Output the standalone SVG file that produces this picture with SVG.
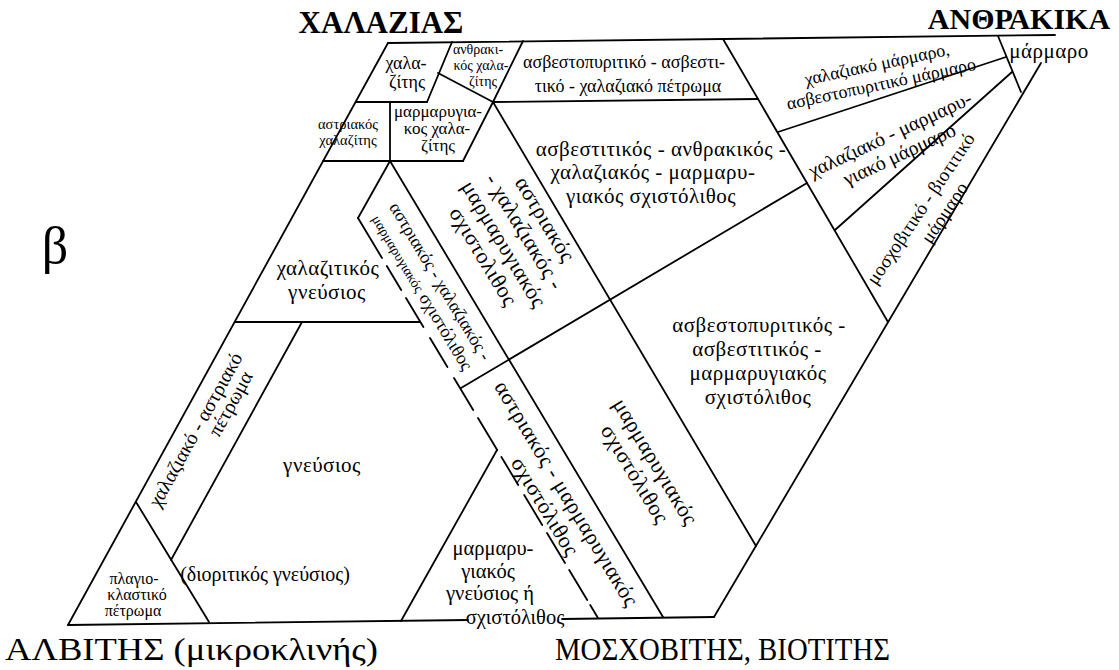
<svg xmlns="http://www.w3.org/2000/svg" width="1119" height="670" viewBox="0 0 1119 670">
<style>
.ln{stroke:#000;stroke-width:1.8;fill:none;stroke-linecap:round}
.t{font-family:"Liberation Serif","DejaVu Serif",serif;fill:#000}
.h{font-weight:bold}
.m{font-size:21px;letter-spacing:0.5px}
.b{font-size:22px;letter-spacing:0.5px}
</style>
<rect width="1119" height="670" fill="#fff"/>
<g id="connectors">
<path class="ln" d="M388,43 L1055,35"/>
<path class="ln" d="M388,43 L68,625"/>
<path class="ln" d="M68,625 L468,620 M562,619 L714,617"/>
<path class="ln" d="M714,617 L1041,63"/>
<path class="ln" d="M998,36 L1021,92"/>
<path class="ln" d="M778,132 L1006,57"/>
<path class="ln" d="M835,230 L1012,72"/>
<path class="ln" d="M723,39 L888,322"/>
<path class="ln" d="M493,102 L756,546"/>
<path class="ln" d="M390,161 L663,617"/>
<path class="ln" d="M461,388 L807,183"/>
<path class="ln" d="M356,102 L427,102 M493,102 L758,99"/>
<path class="ln" d="M452,42 L427,102"/>
<path class="ln" d="M438,73 L493,102"/>
<path class="ln" d="M523,41 L493,102 L463,161"/>
<path class="ln" d="M390,102 L390,161"/>
<path class="ln" d="M323,161 L463,161"/>
<path class="ln" d="M390,161 L358,218"/>
<path class="ln" d="M358,218 L382,258 M386.8,266 L401.2,290 M406,298 L423.4,327 M430,338 L447.4,367 M454,378 L473.2,410 M478,418 L497.2,450 M501.4,457 L518.2,485 M524.2,495 L542.2,525 M547,533 L565,563 M569.2,570 L587.2,600 M590.2,605 L598,618"/>
<path class="ln" d="M235,322 L420,322"/>
<path class="ln" d="M302,322 L171,560"/>
<path class="ln" d="M136,502 L209,622"/>
<path class="ln" d="M497,450 L401,621"/>
</g>
<g id="lbl-chalazias"><text class="t h" x="381" y="33" font-size="31" text-anchor="middle">ΧΑΛΑΖΙΑΣ</text></g>
<g id="lbl-anthrakika"><text class="t h" x="1019" y="29" font-size="30" text-anchor="middle">ΑΝΘΡΑΚΙΚΑ</text></g>
<g id="lbl-beta"><text class="t" x="55" y="263" font-size="52" text-anchor="middle">β</text></g>
<g id="lbl-alvitis"><text class="t" x="5" y="660" font-size="31" textLength="373" lengthAdjust="spacingAndGlyphs">ΑΛΒΙΤΗΣ (μικροκλινής)</text></g>
<g id="lbl-moschovitis"><text class="t" x="555" y="660" font-size="31" textLength="335" lengthAdjust="spacingAndGlyphs">ΜΟΣΧΟΒΙΤΗΣ, ΒΙΟΤΙΤΗΣ</text></g>
<g id="n-chalazitis"><text class="t" font-size="18" text-anchor="middle"><tspan x="406" y="69">χαλα-</tspan><tspan x="407" y="88">ζίτης</tspan></text></g>
<g id="n-anthrakikos"><text class="t" font-size="14" text-anchor="middle"><tspan x="478" y="54">ανθρακι-</tspan><tspan x="481" y="70">κός χαλα-</tspan><tspan x="483" y="86">ζίτης</tspan></text></g>
<g id="n-asv-petroma"><text class="t" font-size="18" text-anchor="middle"><tspan x="624" y="68">ασβεστοπυριτικό - ασβεστι-</tspan><tspan x="628" y="92">τικό - χαλαζιακό πέτρωμα</tspan></text></g>
<g id="n-astr-chalazitis"><text class="t" font-size="14.5" text-anchor="middle"><tspan x="348" y="129">αστριακός</tspan><tspan x="348" y="145">χαλαζίτης</tspan></text></g>
<g id="n-marm-chalazitis"><text class="t" font-size="17" text-anchor="middle"><tspan x="438" y="117">μαρμαρυγια-</tspan><tspan x="437" y="134">κος χαλα-</tspan><tspan x="438" y="151">ζίτης</tspan></text></g>
<g id="n-marmaro-top"><text class="t" x="1049" y="58" font-size="21" letter-spacing="0.5" text-anchor="middle">μάρμαρο</text></g>
<g id="n-chal-marmaro"><text class="t" font-size="18" text-anchor="middle" transform="translate(879,74) rotate(-12)"><tspan x="0" y="-4">χαλαζιακό μάρμαρο,</tspan><tspan x="0" y="16">ασβεστοπυριτικό μάρμαρο</tspan></text></g>
<g id="n-chal-marmaryg"><text class="t" font-size="20" text-anchor="middle" transform="translate(895,145) rotate(-25)"><tspan x="0" y="-5">χαλαζιακό - μαρμαρυ-</tspan><tspan x="0" y="17">γιακό μάρμαρο</tspan></text></g>
<g id="n-moscho"><text class="t" font-size="19" text-anchor="middle" transform="translate(930,215) rotate(-56)"><tspan x="0" y="-5">μοσχοβιτικό - βιοτιτικό</tspan><tspan x="10" y="17">μάρμαρο</tspan></text></g>
<g id="n-asv-anthr"><text class="t m" text-anchor="middle"><tspan x="661" y="156">ασβεστιτικός - ανθρακικός -</tspan><tspan x="653" y="179">χαλαζιακός - μαρμαρυ-</tspan><tspan x="651" y="203">γιακός σχιστόλιθος</tspan></text></g>
<g id="n-big-band"><text class="t b" text-anchor="middle" transform="translate(514,238) rotate(59)"><tspan x="0" y="-29">αστριακός</tspan><tspan x="0" y="-5">- χαλαζιακός -</tspan><tspan x="0" y="19">μαρμαρυγιακός</tspan><tspan x="0" y="43">σχιστολιθος</tspan></text></g>
<g id="n-narrow-band"><text class="t" font-size="18" text-anchor="middle" transform="translate(431,287) rotate(59)"><tspan x="0" y="-5">αστριακός - χαλαζιακός -</tspan><tspan x="0" y="16"><tspan font-size="14">μαρμαρυγιακός</tspan> σχιστόλιθος</tspan></text></g>
<g id="n-chalazitikos"><text class="t m" text-anchor="middle"><tspan x="328" y="275">χαλαζιτικός</tspan><tspan x="327" y="299">γνεύσιος</tspan></text></g>
<g id="n-asv-pyr"><text class="t m" text-anchor="middle"><tspan x="759" y="332">ασβεστοπυριτικός -</tspan><tspan x="757" y="356">ασβεστιτικός -</tspan><tspan x="758" y="380">μαρμαρυγιακός</tspan><tspan x="758" y="404">σχιστόλιθος</tspan></text></g>
<g id="n-chal-astr"><text class="t" font-size="20" text-anchor="middle" transform="translate(196,430) rotate(-61)"><tspan x="0" y="6">χαλαζιακό - αστριακό</tspan></text><text class="t" font-size="20" text-anchor="middle" transform="translate(231,404) rotate(-61)"><tspan x="0" y="6">πέτρωμα</tspan></text></g>
<g id="n-gneusios"><text class="t" font-size="20" text-anchor="middle"><tspan x="322" y="472" font-size="21" letter-spacing="0.5">γνεύσιος</tspan><tspan x="265" y="581">(διοριτικός γνεύσιος)</tspan></text></g>
<g id="n-band-low"><text class="t b" text-anchor="middle" transform="translate(556,500) rotate(59)"><tspan x="0" y="-5">αστριακός - μαρμαρυγιακός</tspan><tspan x="0" y="20">σχιστόλιθος</tspan></text></g>
<g id="n-marm-schist"><text class="t b" text-anchor="middle" transform="translate(645,468) rotate(59)"><tspan x="0" y="-5">μαρμαρυγιακός</tspan><tspan x="0" y="19">σχιστόλιθος</tspan></text></g>
<g id="n-marm-gneus"><text class="t" font-size="20.5" text-anchor="middle"><tspan x="493" y="555">μαρμαρυ-</tspan><tspan x="488" y="578">γιακός</tspan><tspan x="490" y="600">γνεύσιος ή</tspan><tspan x="515" y="624">σχιστόλιθος</tspan></text></g>
<g id="n-plagio"><text class="t" font-size="16" text-anchor="middle"><tspan x="134" y="584">πλαγιο-</tspan><tspan x="137" y="600">κλαστικό</tspan><tspan x="133" y="616">πέτρωμα</tspan></text></g>
</svg>
